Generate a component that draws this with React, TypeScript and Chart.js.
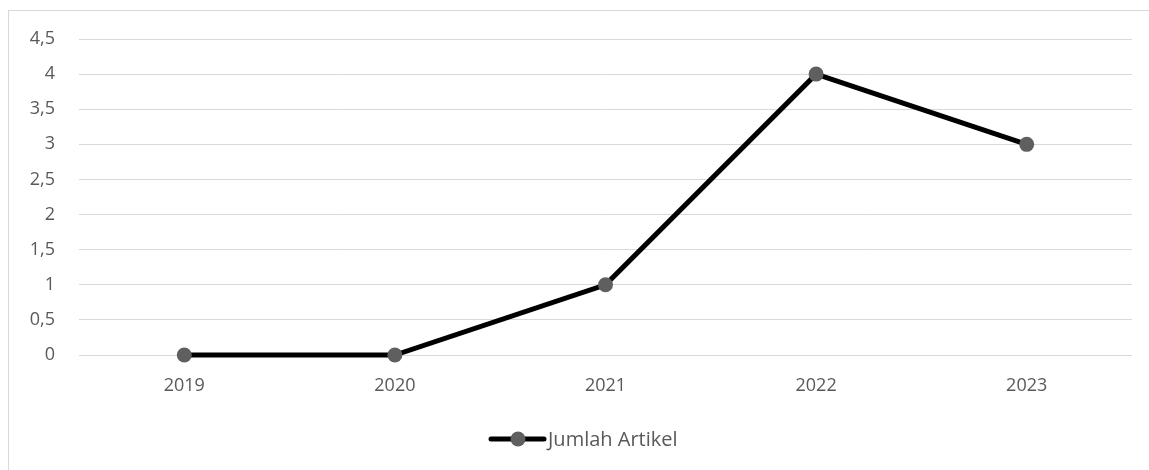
import React, { useEffect, useRef } from "react";
import { Chart, registerables } from "chart.js";

Chart.register(...registerables);

const categories = ["2019", "2020", "2021", "2022", "2023"];
const seriesName = "Jumlah Artikel";
const seriesValues = [0, 0, 1, 4, 3];
const yMin = 0;
const yMax = 4.5;
const yStep = 0.5;

const FONT = "'Open Sans', 'Noto Sans', sans-serif";
const TEXT = "#595959";
const GRID = "#d9d9d9";
const LINE = "#000000";
const MARKER = "#5f5f5f";

// Frame around the whole chart and a line-with-marker legend entry
const framePlugin = {
  id: "frameAndLegend",
  afterDraw(chart: Chart) {
    const ctx = chart.ctx;
    ctx.save();
    ctx.strokeStyle = GRID;
    ctx.lineWidth = 1;
    ctx.strokeRect(8.5, 10.5, chart.width + 20, chart.height + 20);

    const cy = 439;
    ctx.strokeStyle = LINE;
    ctx.lineWidth = 5;
    ctx.lineCap = "round";
    ctx.beginPath();
    ctx.moveTo(491, cy);
    ctx.lineTo(544, cy);
    ctx.stroke();
    ctx.fillStyle = MARKER;
    ctx.beginPath();
    ctx.arc(518, cy, 7.5, 0, Math.PI * 2);
    ctx.fill();

    ctx.fillStyle = TEXT;
    ctx.font = `20px ${FONT}`;
    ctx.textAlign = "left";
    ctx.textBaseline = "middle";
    ctx.fillText(seriesName, 548, cy + 1);
    ctx.restore();
  },
};

export default function App() {
  const ref = useRef<HTMLCanvasElement>(null);

  useEffect(() => {
    if (!ref.current) return;
    const chart = new Chart(ref.current, {
      type: "line",
      data: {
        labels: categories,
        datasets: [
          {
            label: seriesName,
            data: seriesValues,
            borderColor: LINE,
            borderWidth: 5,
            backgroundColor: MARKER,
            pointBackgroundColor: MARKER,
            pointBorderColor: MARKER,
            pointBorderWidth: 0,
            pointRadius: 7.5,
            tension: 0,
            clip: false,
          },
        ],
      },
      options: {
        animation: false,
        responsive: false,
        maintainAspectRatio: false,
        layout: { padding: { top: 39, right: 17, bottom: 0, left: 0 } },
        plugins: {
          legend: { display: false },
          tooltip: { enabled: false },
        },
        scales: {
          x: {
            offset: true,
            grid: { display: false, drawTicks: false },
            border: { display: false },
            ticks: {
              color: TEXT,
              font: { family: FONT, size: 18 },
              padding: 20,
              maxRotation: 0,
            },
            afterFit: (s: any) => {
              s.height = 115;
            },
          },
          y: {
            min: yMin,
            max: yMax,
            grid: { color: GRID, lineWidth: 1, drawTicks: false },
            border: { display: false },
            ticks: {
              stepSize: yStep,
              color: TEXT,
              font: { family: FONT, size: 18 },
              padding: 24,
              callback: (v: any) => String(v).replace(".", ","),
            },
            afterFit: (s: any) => {
              s.width = 79;
            },
          },
        },
      },
      plugins: [framePlugin],
    });
    return () => chart.destroy();
  }, []);

  return (
    <canvas
      ref={ref}
      width={1149}
      height={470}
      style={{ position: "fixed", left: 0, top: 0, width: 1149, height: 470 }}
    />
  );
}
